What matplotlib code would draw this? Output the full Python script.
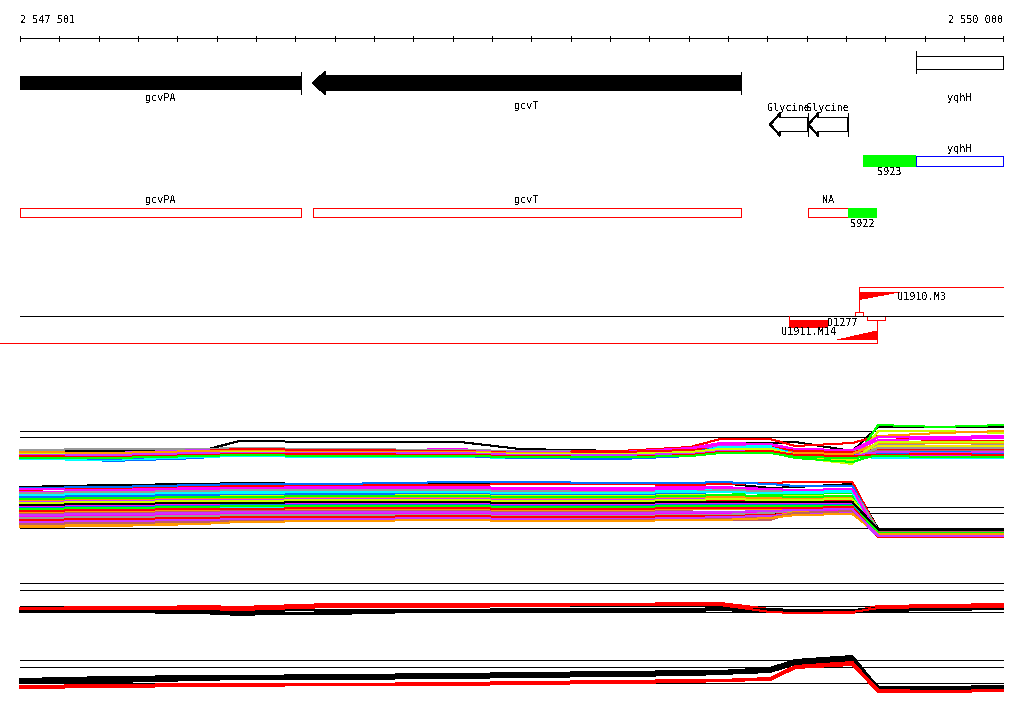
"""
Genome browser view of the gcvPA / gcvT / yqhH region with tiling-array
profiles underneath.  Saves out.png (1024x714).
"""
import matplotlib
matplotlib.use("Agg")
import matplotlib.pyplot as plt
from matplotlib.patches import Polygon, Rectangle

plt.rcParams.update({
    "lines.antialiased": False,
    "patch.antialiased": False,
    "text.antialiased": False,
})

W, H = 1024, 714
START, END = 2547501, 2550000
X0_PX, X1_PX = 20, 1003          # where START / END land on the canvas
LW = 0.72                        # one pixel at 100 dpi

FONT = dict(family="DejaVu Sans Mono", fontsize=7.3, color="black")

# ── annotation data (genome coordinates) ─────────────────────────────────────
GENE_NAMES  = ["gcvPA", "gcvT", "yqhH"]
GENE_START  = [2547501, 2548246, 2549779]
GENE_END    = [2548216, 2549334, 2550000]
GENE_STRAND = ["-", "-", "+"]

RFAM_NAMES = ["Glycine", "Glycine"]
RFAM_START = [2549408, 2549505]
RFAM_END   = [2549505, 2549606]

# track 2 : S923 segment + yqhH
SEG2_NAMES = ["S923", "yqhH"]
SEG2_START = [2549645, 2549779]
SEG2_END   = [2549779, 2550000]

# track 3 : gcvPA, gcvT, NA, S922
SEG3_NAMES = ["gcvPA", "gcvT", "NA", "S922"]
SEG3_START = [2547501, 2548246, 2549505, 2549606]
SEG3_END   = [2548216, 2549334, 2549606, 2549680]

# transcription units / detected features
TU_UP_START, TU_UP_END = 2549634, 2550000        # U1910.M3 (+)
TU_UP_WEDGE = 2549736
TU_DN_START, TU_DN_END = 2547400, 2549680        # U1911.M14 (-)
TU_DN_WEDGE = 2549578
D1277_START, D1277_END = 2549456, 2549556
BOX_UP = (2549624, 2549645)
BOX_DN = (2549655, 2549700)

# ── profile data ─────────────────────────────────────────────────────────────
PROBE_POS = [2547501, 2547730, 2547959, 2548060, 2548289, 2548620, 2548772,
             2549027, 2549205, 2549281, 2549408, 2549472, 2549617, 2549683,
             2549840, 2550000]

# panel A reference levels
REF_A = [119, 113, 99, 43, 37, 22]

UPPER_A = [
    [99, 99, 99, 109, 108, 108, 101, 99, 98, 107, 107, 108, 99, 123, 123, 123],
    [98, 96, 100, 102, 101, 100, 98, 99, 103, 111, 111, 104, 107, 114, 109, 109],
    [95, 94, 98, 98, 97, 98, 96, 95, 98, 102, 100, 95, 88, 125, 123, 125],
    [94, 93, 96, 97, 96, 95, 94, 94, 95, 98, 98, 93, 86, 119, 119, 117],
    [93, 92, 95, 95, 94, 95, 94, 93, 96, 98, 97, 95, 95, 114, 117, 119],
    [97, 95, 98, 100, 99, 101, 97, 98, 102, 107, 106, 101, 100, 113, 113, 114],
    [96, 97, 99, 101, 100, 99, 98, 97, 100, 105, 105, 99, 99, 110, 111, 112],
    [100, 101, 101, 102, 101, 100, 99, 98, 97, 99, 100, 97, 98, 105, 107, 106],
    [92, 92, 94, 95, 94, 94, 92, 92, 95, 104, 104, 94, 92, 103, 101, 99],
    [95, 89, 92, 98, 95, 93, 94, 92, 94, 103, 102, 95, 93, 98, 98, 99],
    [98, 97, 100, 100, 99, 99, 98, 97, 99, 104, 103, 98, 97, 101, 102, 103],
    [93, 92, 95, 95, 95, 94, 94, 94, 96, 97, 98, 94, 90, 104, 104, 104],
    [96, 95, 97, 98, 98, 97, 96, 96, 97, 100, 100, 96, 95, 100, 100, 100],
    [97, 97, 99, 101, 100, 99, 97, 98, 100, 102, 103, 99, 98, 101, 101, 101],
    [91, 90, 93, 94, 93, 93, 92, 92, 94, 101, 101, 93, 92, 97, 95, 95],
    [94, 93, 96, 96, 96, 95, 95, 94, 96, 98, 98, 92, 88, 96, 95, 96],
    [97, 92, 98, 98, 97, 96, 96, 95, 97, 103, 102, 97, 95, 94, 94, 94],
    [94, 94, 97, 97, 96, 96, 95, 95, 97, 100, 100, 96, 94, 95, 94, 95],
    [98, 97, 99, 99, 98, 98, 97, 96, 98, 100, 100, 97, 96, 107, 107, 107],
    [95, 94, 96, 96, 95, 95, 94, 94, 95, 97, 98, 95, 93, 102, 102, 102],
    [93, 93, 95, 95, 94, 94, 93, 93, 95, 99, 99, 94, 93, 93, 93, 93],
    [94, 94, 96, 96, 95, 95, 94, 94, 96, 103, 103, 95, 94, 92, 92, 92],
    [96, 95, 97, 98, 97, 97, 96, 96, 98, 101, 101, 95, 90, 108, 108, 108],
    [93, 91, 95, 95, 94, 94, 92, 91, 94, 98, 99, 94, 93, 96, 96, 97],
    [95, 95, 97, 97, 97, 97, 95, 95, 96, 99, 99, 95, 94, 98, 97, 98],
    [94, 93, 95, 96, 96, 95, 94, 93, 95, 98, 99, 95, 94, 95, 96, 95],
    [92, 92, 94, 95, 94, 94, 93, 93, 94, 97, 97, 93, 92, 94, 93, 93],
]
UPPER_A_COLORS = ["black", "red", "green", "ygreen", "orange", "magenta",
                  "magenta", "gray", "cyan", "blue", "purple", "yellow",
                  "brown", "red", "cyan", "green", "blue", "magenta", "orange",
                  "gray", "magenta", "cyan", "ygreen", "blue", "purple", "red",
                  "green"]

LOWER_A = [
    [63, 65, 66, 67, 66, 67, 67, 67, 67, 67, 62, 63, 66, 21, 21, 21],
    [60, 62, 64, 64, 65, 65, 66, 66, 65, 66, 67, 68, 68, 19, 20, 20],
    [62, 63, 65, 66, 66, 68, 68, 67, 67, 68, 66, 64, 64, 18, 17, 18],
    [58, 59, 60, 60, 61, 61, 60, 60, 61, 62, 60, 59, 60, 17, 17, 16],
    [56, 57, 58, 58, 59, 59, 58, 58, 59, 60, 58, 58, 59, 16, 15, 16],
    [54, 55, 56, 56, 56, 57, 56, 56, 57, 58, 56, 56, 57, 18, 18, 18],
    [52, 53, 54, 54, 54, 55, 54, 54, 55, 55, 54, 54, 53, 14, 17, 17],
    [50, 51, 52, 52, 53, 53, 52, 52, 53, 53, 52, 52, 52, 15, 15, 15],
    [57, 58, 59, 60, 60, 60, 59, 58, 58, 60, 59, 60, 61, 20, 19, 20],
    [48, 49, 50, 50, 51, 51, 50, 50, 51, 51, 50, 50, 50, 14, 14, 14],
    [46, 47, 48, 48, 49, 49, 48, 48, 49, 50, 49, 49, 49, 16, 16, 16],
    [44, 45, 46, 47, 47, 47, 46, 46, 47, 47, 47, 47, 47, 13, 13, 13],
    [42, 43, 44, 45, 45, 45, 44, 44, 45, 45, 45, 45, 45, 15, 15, 15],
    [40, 41, 42, 43, 43, 43, 42, 42, 43, 43, 43, 43, 43, 16, 16, 16],
    [51, 52, 53, 53, 54, 54, 53, 53, 54, 55, 54, 53, 54, 19, 19, 19],
    [38, 39, 40, 40, 41, 41, 40, 40, 41, 41, 41, 42, 40, 17, 17, 17],
    [36, 37, 38, 39, 39, 39, 38, 38, 39, 30, 30, 39, 39, 18, 18, 18],
    [34, 35, 36, 37, 37, 37, 36, 36, 37, 37, 38, 38, 39, 14, 14, 14],
    [32, 33, 34, 35, 35, 35, 34, 34, 35, 35, 37, 40, 42, 20, 20, 20],
    [30, 31, 32, 33, 33, 34, 33, 33, 34, 34, 35, 37, 38, 15, 15, 15],
    [24, 25, 27, 28, 29, 30, 29, 29, 30, 30, 33, 38, 37, 17, 17, 17],
    [28, 29, 30, 31, 31, 32, 31, 31, 32, 33, 34, 36, 38, 13, 13, 13],
    [53, 54, 55, 56, 56, 57, 56, 56, 57, 58, 57, 57, 58, 16, 16, 16],
    [47, 48, 49, 49, 50, 50, 49, 49, 50, 51, 50, 50, 51, 17, 18, 18],
    [55, 56, 57, 57, 58, 58, 57, 57, 58, 58, 57, 57, 58, 15, 14, 15],
    [26, 27, 28, 29, 29, 30, 29, 30, 30, 31, 32, 37, 39, 19, 19, 19],
    [61, 60, 62, 62, 63, 63, 62, 62, 63, 63, 61, 60, 61, 14, 13, 13],
    [45, 46, 47, 47, 48, 48, 47, 47, 48, 48, 48, 48, 48, 20, 20, 20],
    [41, 42, 43, 44, 44, 44, 43, 43, 44, 44, 44, 44, 44, 17, 17, 17],
    [39, 40, 41, 41, 42, 42, 41, 41, 42, 42, 42, 42, 43, 13, 13, 13],
    [23, 24, 26, 28, 29, 30, 29, 29, 30, 30, 32, 35, 36, 16, 16, 16],
    [35, 36, 37, 38, 38, 38, 37, 37, 38, 38, 39, 40, 41, 14, 14, 14],
]
LOWER_A_COLORS = ["black", "red", "blue", "magenta", "cyan", "green", "ygreen",
                  "orange", "gray", "purple", "red", "magenta", "blue", "cyan",
                  "green", "orange", "brown", "magenta", "gray", "red",
                  "orange", "purple", "blue", "ygreen", "cyan", "brown",
                  "magenta", "black", "green", "red", "orange", "purple"]

# panel B reference levels
REF_B = [117, 110, 94, 88, 40, 33, 17]

UPPER_B = [
    [92, 92, 94, 93, 96, 96, 96, 96, 97, 97, 90, 88, 88, 94, 95, 96],
    [91, 91, 92, 92, 93, 95, 95, 96, 96, 96, 89, 87, 87, 93, 94, 95],
    [92, 93, 93, 92, 94, 95, 96, 96, 97, 97, 91, 89, 89, 94, 95, 96],
    [89, 89, 89, 87, 86, 89, 90, 90, 91, 91, 89, 89, 90, 91, 92, 92],
    [88, 88, 87, 85, 88, 88, 88, 89, 89, 90, 88, 87, 88, 89, 90, 91],
    [90, 90, 89, 89, 90, 90, 91, 91, 91, 92, 91, 90, 90, 92, 93, 93],
    [91, 91, 91, 90, 93, 93, 94, 95, 95, 95, 88, 87, 88, 92, 93, 93],
]
UPPER_B_COLORS = ["red", "red", "red", "black", "black", "black", "red"]

LOWER_B = [
    [21, 23, 24, 24, 25, 26, 27, 28, 29, 29, 32, 40, 44, 12, 12, 13],
    [19, 20, 22, 22, 23, 24, 25, 26, 27, 28, 31, 38, 43, 11, 11, 12],
    [17, 18, 20, 21, 21, 22, 23, 24, 25, 26, 28, 36, 40, 10, 11, 11],
    [20, 21, 23, 23, 24, 25, 26, 27, 28, 28, 30, 37, 42, 13, 13, 14],
    [13, 14, 15, 15, 15, 16, 17, 18, 19, 20, 21, 33, 37, 10, 9, 10],
    [12, 13, 14, 14, 15, 15, 16, 17, 18, 19, 20, 32, 35, 8, 8, 9],
    [14, 15, 16, 16, 16, 17, 18, 19, 20, 20, 22, 34, 38, 9, 9, 10],
]
LOWER_B_COLORS = ["black", "black", "black", "black", "red", "red", "red"]

PALETTE = {"red": "#ff0000", "magenta": "#ff00ff", "cyan": "#00ffff",
           "blue": "#0070ff", "green": "#00ff00", "ygreen": "#ccff00",
           "yellow": "#eeee00", "orange": "#ff9900", "gray": "#999999",
           "purple": "#cc33ff", "brown": "#c06060", "black": "#000000"}

BP_PX = (END - START) / (X1_PX - X0_PX)
XLIM = (START - X0_PX * BP_PX, START + (W - X0_PX) * BP_PX)
RED = "#ff0000"


def fmt(n):
    return f"{n:,}".replace(",", " ")


def left_arrow(ax, x0, x1, yc, body, head_h, head_len, face):
    """Arrow pointing to x0 (minus strand), tail at x1."""
    pts = [(x0, yc), (x0 + head_len, yc - head_h / 2), (x0 + head_len, yc - body / 2),
           (x1, yc - body / 2), (x1, yc + body / 2), (x0 + head_len, yc + body / 2),
           (x0 + head_len, yc + head_h / 2)]
    ax.add_patch(Polygon(pts, closed=True, facecolor=face, edgecolor="black",
                         lw=LW, joinstyle="miter"))
    ax.plot([x1, x1], [yc - head_h / 2, yc + head_h / 2], color="black", lw=LW)


fig = plt.figure(figsize=(W / 100, H / 100), dpi=100)
ax = fig.add_axes([0, 0, 1, 1])
ax.set_xlim(XLIM)
ax.set_ylim(H, 0)
ax.axis("off")

# ── ruler ────────────────────────────────────────────────────────────────────
ax.plot([START, END], [38, 38], color="black", lw=LW)
for t in range(START, END + 2, 100):
    ax.plot([t, t], [35.5, 40.5], color="black", lw=LW)
ax.text(START, 20, fmt(START), ha="left", va="center", **FONT)
ax.text(END, 20, fmt(END), ha="right", va="center", **FONT)

# ── gene track ───────────────────────────────────────────────────────────────
gene_label_y = [98, 106, 98]
for name, s, e, strand, ly in zip(GENE_NAMES, GENE_START, GENE_END,
                                  GENE_STRAND, gene_label_y):
    if strand == "-" and s > START:
        left_arrow(ax, s, e, 83, 13.5, 22, 12 * BP_PX, "black")
    elif strand == "-":
        ax.add_patch(Rectangle((s, 76), e - s, 14, facecolor="black", lw=0))
        ax.plot([e, e], [72, 94], color="black", lw=LW)
    else:
        ax.add_patch(Rectangle((s, 55.5), e - s, 13, facecolor="white",
                               edgecolor="black", lw=LW))
        ax.plot([s, s], [51, 73], color="black", lw=LW)
    ax.text((s + min(e, END)) / 2, ly, name, ha="center", va="center", **FONT)

for name, s, e in zip(RFAM_NAMES, RFAM_START, RFAM_END):
    left_arrow(ax, s, e, 124.5, 14, 22.5, 10 * BP_PX, "white")
    ax.text((s + e) / 2, 108, name, ha="center", va="center", **FONT)

# ── track 2 ──────────────────────────────────────────────────────────────────
ax.add_patch(Rectangle((SEG2_START[0], 155), SEG2_END[0] - SEG2_START[0], 11.5,
                       facecolor="#00ff00", lw=0))
ax.add_patch(Rectangle((SEG2_START[1], 155.5), SEG2_END[1] - SEG2_START[1], 10.5,
                       facecolor="white", edgecolor="#0000ff", lw=LW))
ax.text((SEG2_START[0] + SEG2_END[0]) / 2, 172, SEG2_NAMES[0], ha="center",
        va="center", **FONT)
ax.text((SEG2_START[1] + SEG2_END[1]) / 2, 149, SEG2_NAMES[1], ha="center",
        va="center", **FONT)

# ── track 3 ──────────────────────────────────────────────────────────────────
for name, s, e in zip(SEG3_NAMES, SEG3_START, SEG3_END):
    if name.startswith("S"):
        ax.add_patch(Rectangle((s, 207.5), e - s, 10, facecolor="#00ff00", lw=0))
        ax.text((s + e) / 2, 224, name, ha="center", va="center", **FONT)
    else:
        ax.add_patch(Rectangle((s, 208), e - s, 9, facecolor="white",
                               edgecolor=RED, lw=LW))
        ax.text((s + e) / 2, 200, name, ha="center", va="center", **FONT)

# ── transcription-unit track ─────────────────────────────────────────────────
ax.plot([START, END], [316, 316], color="black", lw=LW)
ax.plot([TU_UP_START, TU_UP_END], [287, 287], color=RED, lw=LW)
ax.plot([TU_UP_START, TU_UP_START], [287, 312], color=RED, lw=LW)
ax.add_patch(Polygon([(TU_UP_START, 292), (TU_UP_WEDGE, 292), (TU_UP_START, 299.5)],
                     facecolor=RED, lw=0))
ax.text(TU_UP_WEDGE - 2 * BP_PX, 297.5, "U1910.M3", ha="left", va="center", **FONT)

ax.plot([TU_DN_START, TU_DN_END], [343, 343], color=RED, lw=LW)
ax.plot([TU_DN_END, TU_DN_END], [319.5, 343], color=RED, lw=LW)
ax.add_patch(Polygon([(TU_DN_WEDGE, 339.5), (TU_DN_END, 339.5), (TU_DN_END, 331)],
                     facecolor=RED, lw=0))

ax.add_patch(Rectangle((BOX_UP[0], 311.5), BOX_UP[1] - BOX_UP[0], 4.5,
                       facecolor="none", edgecolor=RED, lw=LW))
ax.add_patch(Rectangle((BOX_DN[0], 316), BOX_DN[1] - BOX_DN[0], 3.5,
                       facecolor="none", edgecolor=RED, lw=LW))

ax.add_patch(Rectangle((D1277_START, 320), D1277_END - D1277_START, 8,
                       facecolor=RED, lw=0))
ax.plot([D1277_START, D1277_START], [316, 320], color=RED, lw=LW)
ax.text(D1277_END - 0.5 * BP_PX, 323.5, "D1277", ha="left", va="center", **FONT)
ax.text((D1277_START + D1277_END) / 2, 332, "U1911.M14", ha="center",
        va="center", **FONT)


# ── profile panels ───────────────────────────────────────────────────────────
def panel(top_px, bottom_px, refs, groups):
    pax = fig.add_axes([0, 1 - bottom_px / H, 1, (bottom_px - top_px) / H])
    pax.set_xlim(XLIM)
    pax.set_ylim(0, bottom_px - top_px)
    pax.axis("off")
    for r in refs:
        pax.plot([START, END], [r, r], color="black", lw=LW, zorder=1)
    for series, colors in groups:
        for vals, c in zip(series, colors):
            pax.plot(PROBE_POS, vals, color=PALETTE[c], lw=LW, zorder=2)
    return pax


panel(415, 550, REF_A, [(LOWER_A, LOWER_A_COLORS), (UPPER_A, UPPER_A_COLORS)])
panel(570, 700, REF_B, [(UPPER_B, UPPER_B_COLORS), (LOWER_B, LOWER_B_COLORS)])

fig.savefig("out.png", dpi=100)
